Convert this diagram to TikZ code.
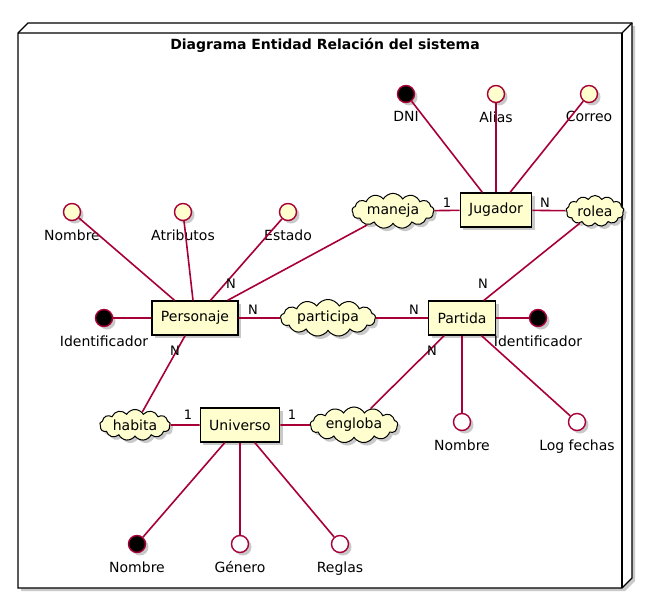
\documentclass[tikz,border=0pt]{standalone}
\usepackage{fontspec}
\setmainfont{DejaVu Sans}
\usetikzlibrary{shapes.symbols, shadows, calc}
\definecolor{EntityColor}{RGB}{254,254,206}
\definecolor{LinkColor}{RGB}{168,0,54}
\tikzstyle{link} = [line width=1.6pt, LinkColor]
\tikzstyle{card} = [font=\fontsize{13}{15}\selectfont, inner sep=0pt]
\tikzset{
  soft shadow/.style={drop shadow={shadow xshift=3pt, shadow yshift=-3pt, opacity=0.35, fill=black!60}},
  entity/.style={rectangle, draw=black, line width=1.2pt, fill=EntityColor, minimum height=34pt, inner xsep=9pt, font=\fontsize{14}{16}\selectfont, soft shadow},
  relation/.style={cloud, cloud puffs=13, cloud puff arc=120, cloud ignores aspect, draw=black, line width=1pt, fill=EntityColor, minimum height=31pt, inner xsep=2.5pt, inner ysep=2pt, font=\fontsize{14}{16}\selectfont, soft shadow},
  key attr/.style={circle, minimum size=17pt, inner sep=0pt, draw=LinkColor, line width=1.4pt, fill=black, soft shadow},
  attr/.style={key attr, fill=EntityColor},
  open attr/.style={key attr, fill=white},
  every label/.style={font=\fontsize{14}{16}\selectfont, inner sep=0pt, yshift=-8pt}
}

\begin{document}
\begin{tikzpicture}[x=1pt, y=-1pt]
  \useasboundingbox (0,0) rectangle (658,599);

  % Frame of the node
  \filldraw[fill=white, line width=1.2pt, soft shadow] (18,33) -- (28,23) -- (632,23) -- (632,578) -- (622,588) -- (18,588) -- cycle;
  \draw[line width=1.2pt] (18,33) -- (622,33) -- (632,23);
  \draw[line width=1.2pt] (622,33) -- (622,588);
  \node[font=\fontsize{14}{16}\selectfont\bfseries] (title) at (325,45) {Diagrama Entidad Relación del sistema};

  % Entities
  \node[entity] (jugador) at (496,210) {Jugador};
  \node[entity] (personaje) at (195,318) {Personaje};
  \node[entity] (partida) at (462,318) {Partida};
  \node[entity] (universo) at (240,425) {Universo};

  % Relations
  \node[relation] (maneja) at (393,211) {maneja};
  \node[relation] (rolea) at (595,211) {rolea};
  \node[relation] (participa) at (328,318) {participa};
  \node[relation] (habita) at (135,425) {habita};
  \node[relation] (engloba) at (354,425) {engloba};

  % Attributes of Jugador
  \node[key attr, label=below:DNI] (dni) at (406,94) {};
  \node[attr, label=below:Alias] (alias) at (496,94) {};
  \node[attr, label=below:Correo] (correo) at (589,94) {};

  % Attributes of Personaje
  \node[attr, label=below:Nombre] (pnombre) at (72,212) {};
  \node[attr, label=below:Atributos] (patributos) at (183,212) {};
  \node[attr, label=below:Estado] (pestado) at (288,212) {};
  \node[key attr, label=below:Identificador] (pid) at (104,318) {};

  % Attributes of Partida
  \node[key attr, label=below:Identificador] (paid) at (538,318) {};
  \node[open attr, label=below:Nombre] (panombre) at (462,422) {};
  \node[open attr, label=below:Log fechas] (palog) at (577,422) {};

  % Attributes of Universo
  \node[key attr, label=below:Nombre] (unombre) at (137,544) {};
  \node[open attr, label=below:Género] (ugenero) at (240,544) {};
  \node[open attr, label=below:Reglas] (ureglas) at (340,544) {};

  % Links
  \foreach \a in {dni, alias, correo}
    \draw[link] (\a) -- (jugador);
  \foreach \a in {pnombre, patributos, pestado, pid}
    \draw[link] (\a) -- (personaje);
  \foreach \a in {paid, panombre, palog}
    \draw[link] (\a) -- (partida);
  \foreach \a in {unombre, ugenero, ureglas}
    \draw[link] (\a) -- (universo);

  \draw[link] (maneja) -- (jugador);
  \draw[link] (jugador) -- (rolea);
  \draw[link] (maneja) -- (personaje);
  \draw[link] (rolea) -- (partida);
  \draw[link] (personaje) -- (participa);
  \draw[link] (participa) -- (partida);
  \draw[link] (habita) -- (personaje);
  \draw[link] (habita) -- (universo);
  \draw[link] (universo) -- (engloba);
  \draw[link] (engloba) -- (partida);

  % Cardinalities
  \node[card] (cman) at (447,203) {1};
  \node[card] (crol) at (545,203) {N};
  \node[card] (cpman) at (231,284) {N};
  \node[card] (cppar) at (253,310) {N};
  \node[card] (capar) at (414,310) {N};
  \node[card] (carol) at (483,284) {N};
  \node[card] (caeng) at (432,351) {N};
  \node[card] (cphab) at (175,351) {N};
  \node[card] (cuhab) at (188,415) {1};
  \node[card] (cueng) at (292,415) {1};
\end{tikzpicture}
\end{document}
